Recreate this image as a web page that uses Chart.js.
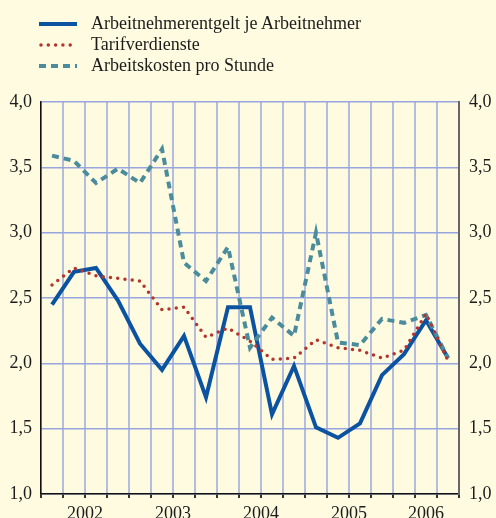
<!DOCTYPE html>
<html>
<head>
<meta charset="utf-8">
<script src="https://cdn.jsdelivr.net/npm/chart.js@4/dist/chart.umd.min.js"></script>
<style>
    html, body { margin: 0; padding: 0; background: #fefbe0; }
    #wrap { position: relative; width: 496px; height: 518px; }
    #legend { position: absolute; left: 39px; top: 13px; font-family: 'Liberation Serif', 'Times New Roman', serif; font-size: 18px; color: #1c1c1c; }
    #legend .item { display: flex; align-items: center; height: 21px; }
    #legend svg { width: 38px; height: 6px; margin-right: 14px; }
</style>
</head>
<body>
<div id="wrap">
    <canvas id="lohnChart" width="496" height="518"></canvas>
    <div id="legend"></div>
</div>
<script>
// --- Daten (Quartale 2002 Q1 bis 2006 Q3) ---
const years = ['2002', '2003', '2004', '2005', '2006'];
const quartersPerYear = [4, 4, 4, 4, 3];
const yTicks = [1.0, 1.5, 2.0, 2.5, 3.0, 3.5, 4.0];
const yTickLabels = ['1,0', '1,5', '2,0', '2,5', '3,0', '3,5', '4,0'];

const entgelt = [2.45, 2.70, 2.73, 2.48, 2.15, 1.95, 2.21, 1.74, 2.43, 2.43, 1.61, 1.98, 1.51, 1.43, 1.54, 1.91, 2.07, 2.33, 2.04];
const tarif = [2.60, 2.73, 2.67, 2.65, 2.63, 2.41, 2.43, 2.20, 2.27, 2.17, 2.03, 2.04, 2.18, 2.12, 2.10, 2.04, 2.10, 2.38, 2.02];
const arbeitskosten = [3.59, 3.55, 3.38, 3.49, 3.38, 3.64, 2.77, 2.63, 2.89, 2.12, 2.35, 2.21, 3.00, 2.16, 2.14, 2.34, 2.31, 2.37, 2.04];

const labelEntgelt = 'Arbeitnehmerentgelt je Arbeitnehmer';
const labelTarif = 'Tarifverdienste';
const labelKosten = 'Arbeitskosten pro Stunde';

document.addEventListener('DOMContentLoaded', function() {
    const nQuarters = quartersPerYear.reduce((a, b) => a + b, 0);
    // Mitte jedes Jahres auf der Quartalsachse
    const yearCenters = [];
    let start = 0;
    quartersPerYear.forEach(function(n) { yearCenters.push(start + n / 2); start += n; });

    const toPoints = arr => arr.map((v, i) => ({ x: i + 0.5, y: v }));
    const font = { family: "'Liberation Serif', 'Times New Roman', serif", size: 18 };
    const textColor = '#1c1c1c';

    const datasets = [
        { label: labelEntgelt, data: toPoints(entgelt), borderColor: '#0b53a0', borderWidth: 4, order: 2 },
        { label: labelTarif, data: toPoints(tarif), borderColor: '#b3352c', borderWidth: 3.5, borderDash: [0, 7.3], borderCapStyle: 'round', order: 0 },
        { label: labelKosten, data: toPoints(arbeitskosten), borderColor: '#4a8c9c', borderWidth: 4, borderDash: [7, 5], order: 1 }
    ];

    new Chart(document.getElementById('lohnChart').getContext('2d'), {
        type: 'line',
        data: { datasets: datasets },
        options: {
            responsive: false,
            animation: false,
            layout: { padding: { top: 102, left: 0, right: 0, bottom: 0 } },
            elements: { point: { radius: 0 }, line: { tension: 0, fill: false } },
            plugins: { legend: { display: false }, tooltip: { enabled: false } },
            scales: {
                x: {
                    type: 'linear', position: 'bottom', min: 0, max: nQuarters,
                    ticks: { display: false, stepSize: 1 },
                    grid: { color: '#b5bddc', lineWidth: 2, tickLength: 4, tickColor: '#333' },
                    border: { color: '#111', width: 1.5 },
                    afterFit: function(s) { s.height = 1; }
                },
                xYear: {
                    type: 'linear', position: 'bottom', min: 0, max: nQuarters,
                    grid: { display: false }, border: { display: false },
                    afterBuildTicks: function(s) { s.ticks = yearCenters.map(v => ({ value: v })); },
                    ticks: { autoSkip: false, maxRotation: 0, padding: 0, font: font, color: textColor,
                        callback: function(v, i) { return years[i]; } },
                    afterFit: function(s) { s.height = 23; }
                },
                y: {
                    position: 'left', min: 1, max: 4,
                    afterBuildTicks: function(s) { s.ticks = yTicks.map(v => ({ value: v })); },
                    ticks: { padding: 9, font: font, color: textColor, callback: function(v, i) { return yTickLabels[i]; } },
                    grid: { color: '#98a6e0', lineWidth: 1.5, drawTicks: false },
                    border: { color: '#111', width: 1.5 },
                    afterFit: function(s) { s.width = 41; }
                },
                y1: {
                    position: 'right', min: 1, max: 4,
                    afterBuildTicks: function(s) { s.ticks = yTicks.map(v => ({ value: v })); },
                    ticks: { padding: 10, font: font, color: textColor, callback: function(v, i) { return yTickLabels[i]; } },
                    grid: { drawOnChartArea: false, drawTicks: false },
                    border: { color: '#666', width: 2 },
                    afterFit: function(s) { s.width = 37; }
                }
            }
        }
    });

    // Legende als HTML
    const legendEl = document.getElementById('legend');
    datasets.forEach(function(ds) {
        const dash = ds.borderDash ? ds.borderDash.join(' ') : 'none';
        const cap = ds.borderCapStyle || 'butt';
        const x1 = cap === 'round' ? 2 : 0;
        legendEl.insertAdjacentHTML('beforeend',
            '<div class="item"><svg viewBox="0 0 38 6"><line x1="' + x1 + '" y1="3" x2="38" y2="3" stroke="' + ds.borderColor +
            '" stroke-width="' + ds.borderWidth + '" stroke-dasharray="' + dash + '" stroke-linecap="' + cap + '"/></svg><span>' + ds.label + '</span></div>');
    });
});
</script>
</body>
</html>
